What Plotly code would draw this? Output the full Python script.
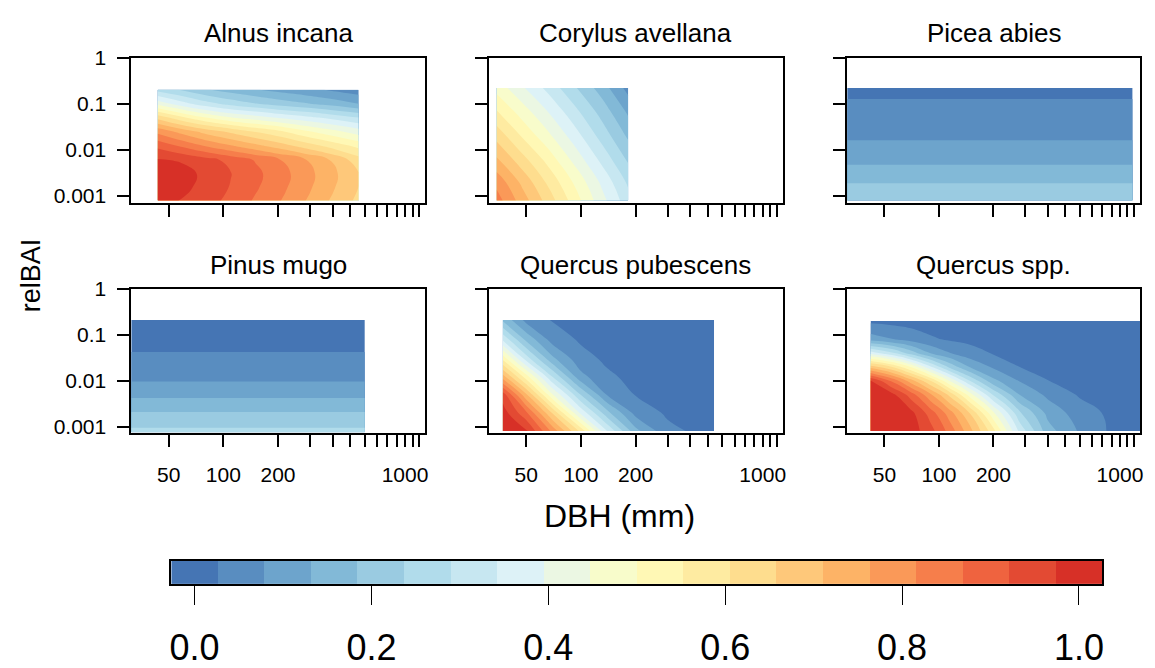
import plotly.graph_objects as go

# ---------------- data ----------------
SPECIES = ["Alnus incana", "Corylus avellana", "Picea abies",
           "Pinus mugo", "Quercus pubescens", "Quercus spp."]

# Alnus incana
ALNUS_X = [43.5, 60, 80, 110, 150, 200, 280, 380, 555]
ALNUS_Y = [0.0008, 0.0015, 0.003, 0.006, 0.012, 0.025, 0.05, 0.1, 0.2]
ALNUS_Z = [
    [0.99, 0.97, 0.945, 0.905, 0.862, 0.822, 0.766, 0.711, 0.645],
    [1.01, 0.985, 0.957, 0.917, 0.875, 0.835, 0.78, 0.725, 0.657],
    [1.02, 0.99, 0.963, 0.923, 0.882, 0.842, 0.787, 0.732, 0.662],
    [0.98, 0.968, 0.942, 0.905, 0.865, 0.825, 0.77, 0.715, 0.63],
    [0.91, 0.86, 0.815, 0.772, 0.73, 0.69, 0.64, 0.595, 0.54],
    [0.80, 0.74, 0.69, 0.645, 0.60, 0.565, 0.51, 0.47, 0.42],
    [0.64, 0.56, 0.50, 0.45, 0.42, 0.39, 0.36, 0.33, 0.29],
    [0.43, 0.36, 0.31, 0.27, 0.24, 0.215, 0.19, 0.165, 0.13],
    [0.27, 0.23, 0.19, 0.16, 0.135, 0.115, 0.095, 0.075, 0.05],
]

# Corylus avellana
CORYLUS_X = [34.4, 48, 65, 90, 130, 182]
CORYLUS_Y = [0.0008, 0.002, 0.006, 0.02, 0.07, 0.22]
CORYLUS_Z = [
    [0.84, 0.735, 0.64, 0.535, 0.415, 0.31],
    [0.80, 0.695, 0.60, 0.50, 0.385, 0.28],
    [0.72, 0.625, 0.54, 0.44, 0.33, 0.23],
    [0.64, 0.545, 0.465, 0.375, 0.27, 0.175],
    [0.555, 0.47, 0.395, 0.31, 0.215, 0.12],
    [0.48, 0.40, 0.33, 0.25, 0.16, 0.06],
]

# Picea abies (varies with relBAI only)
PICEA_X = [30, 1175]
PICEA_Y = [0.0008, 0.0019, 0.0047, 0.0162, 0.128, 0.22]
PICEA_PROFILE = [0.225, 0.184, 0.132, 0.079, 0.026, 0.008]

# Pinus mugo (varies with relBAI only)
PINUS_X = [30, 601]
PINUS_Y = [0.00076, 0.00095, 0.0021, 0.0042, 0.0096, 0.043, 0.21]
PINUS_PROFILE = [0.25, 0.237, 0.184, 0.132, 0.079, 0.026, 0.004]

# Quercus pubescens
QPUB_X = [37.2, 50, 70, 100, 140, 200, 300, 540]
QPUB_Y = [0.0008, 0.002, 0.005, 0.012, 0.03, 0.08, 0.21]
QPUB_Z = [
    [1.0, 0.985, 0.80, 0.59, 0.34, 0.15, 0.04, 0.005],
    [1.0, 0.88, 0.65, 0.38, 0.20, 0.06, 0.018, 0.0],
    [0.95, 0.72, 0.45, 0.234, 0.072, 0.024, 0.008, 0.0],
    [0.74, 0.53, 0.29, 0.097, 0.035, 0.013, 0.003, 0.0],
    [0.54, 0.32, 0.144, 0.044, 0.017, 0.004, 0.0, 0.0],
    [0.33, 0.17, 0.054, 0.019, 0.005, 0.0, 0.0, 0.0],
    [0.175, 0.062, 0.022, 0.008, 0.002, 0.0, 0.0, 0.0],
]

# Quercus spp.
QSPP_X = [41.9, 55, 70, 90, 115, 150, 200, 280, 400, 600, 850, 1300]
QSPP_Y = [0.0008, 0.002, 0.005, 0.01, 0.02, 0.04, 0.08, 0.2]
QSPP_Z = [
    [1.0, 1.0, 1.0, 0.942, 0.848, 0.723, 0.573, 0.327, 0.154, 0.072, 0.025, 0.005],
    [1.0, 1.0, 0.99, 0.895, 0.785, 0.650, 0.456, 0.244, 0.115, 0.051, 0.02, 0.003],
    [1.0, 0.99, 0.896, 0.771, 0.640, 0.465, 0.282, 0.129, 0.066, 0.02, 0.012, 0.002],
    [0.98, 0.857, 0.735, 0.603, 0.444, 0.281, 0.146, 0.075, 0.027, 0.012, 0.005, 0.0],
    [0.687, 0.608, 0.497, 0.351, 0.223, 0.124, 0.071, 0.026, 0.015, 0.008, 0.003, 0.0],
    [0.375, 0.302, 0.213, 0.130, 0.081, 0.047, 0.022, 0.012, 0.006, 0.0, 0.0, 0.0],
    [0.107, 0.082, 0.059, 0.034, 0.020, 0.012, 0.006, 0.003, 0.0, 0.0, 0.0, 0.0],
    [0.015, 0.01, 0.005, 0.0, 0.0, 0.0, 0.0, 0.0, 0.0, 0.0, 0.0, 0.0],
]

# axis ticks
X_TICKS = [50, 100, 200, 300, 400, 500, 600, 700, 800, 900, 1000, 1100, 1200]
X_TICK_LABELS = ["50", "100", "200", "", "", "", "", "", "", "", "1000", "", ""]
Y_TICKS = [0.001, 0.01, 0.1, 1]
Y_TICK_LABELS = ["0.001", "0.01", "0.1", "1"]
CB_TICKS = [0.0, 0.2, 0.4, 0.6, 0.8, 1.0]
CB_TICK_LABELS = ["0.0", "0.2", "0.4", "0.6", "0.8", "1.0"]

# ---------------- styling ----------------
N_LEVELS = 20
ANCHORS = ["#4575B4", "#74ADD1", "#ABD9E9", "#E0F3F8", "#FFFFBF",
           "#FEE090", "#FDAE61", "#F46D43", "#D73027"]


def hex2rgb(h):
    h = h.lstrip("#")
    return [int(h[i:i + 2], 16) for i in (0, 2, 4)]


def ramp(anchors, n):
    rgb = [hex2rgb(a) for a in anchors]
    out = []
    for k in range(n):
        t = k / (n - 1) * (len(rgb) - 1)
        i = min(int(t), len(rgb) - 2)
        f = t - i
        c = [round(rgb[i][j] + f * (rgb[i + 1][j] - rgb[i][j])) for j in range(3)]
        out.append("rgb(%d,%d,%d)" % tuple(c))
    return out


COLORS = ramp(ANCHORS, N_LEVELS)
STEP = 1.0 / (N_LEVELS - 1)
COLORSCALE = [[k * STEP, COLORS[k]] for k in range(N_LEVELS)]
COLORSCALE[-1][0] = 1.0
LEVEL_CENTERS = [k * STEP for k in range(N_LEVELS)]

FONT = "Liberation Sans, Arial, sans-serif"
NARROW = "Liberation Sans Narrow, Arial Narrow, Liberation Sans, sans-serif"
W, H = 1155, 668
COLS = [(130, 425), (489, 784.3), (849, 1143)]
ROWS = [(47, 197), (286, 435)]
X_RANGE = [1.494, 3.111]
Y_RANGE = [-3.145, 0.0]


def px_x(p):
    return p / W


def px_y(p):
    return 1 - p / H


data = {
    "Alnus incana": (ALNUS_X, ALNUS_Y, ALNUS_Z),
    "Corylus avellana": (CORYLUS_X, CORYLUS_Y, CORYLUS_Z),
    "Picea abies": (PICEA_X, PICEA_Y, [[v] * len(PICEA_X) for v in PICEA_PROFILE]),
    "Pinus mugo": (PINUS_X, PINUS_Y, [[v] * len(PINUS_X) for v in PINUS_PROFILE]),
    "Quercus pubescens": (QPUB_X, QPUB_Y, QPUB_Z),
    "Quercus spp.": (QSPP_X, QSPP_Y, QSPP_Z),
}

fig = go.Figure()
layout = {}
annotations = []

for i, name in enumerate(SPECIES):
    r, c = divmod(i, 3)
    n = i + 1
    xs, ys, zs = data[name]
    fig.add_trace(go.Contour(
        x=xs, y=ys, z=zs,
        xaxis="x%d" % n, yaxis="y%d" % n,
        colorscale=COLORSCALE,
        contours=dict(start=0.5 * STEP, end=1 - 0.5 * STEP, size=STEP,
                      coloring="fill", showlines=False),
        line=dict(width=0, smoothing=1.3),
        showscale=False, hoverinfo="skip",
    ))
    x0, x1 = COLS[c]
    y0, y1 = ROWS[r]
    axis_common = dict(showline=True, mirror=True, linecolor="black", linewidth=2,
                       ticks="outside", tickcolor="black", tickwidth=1.6, ticklen=12,
                       showgrid=False, zeroline=False,
                       tickfont=dict(family=FONT, size=21, color="black"))
    layout["xaxis%d" % n] = dict(
        axis_common, type="log", range=X_RANGE,
        domain=[px_x(x0), px_x(x1)], anchor="y%d" % n,
        tickmode="array", tickvals=X_TICKS, ticktext=X_TICK_LABELS,
        showticklabels=(r == 1), ticklabelstandoff=9)
    layout["yaxis%d" % n] = dict(
        axis_common, type="log", range=Y_RANGE,
        domain=[px_y(y1), px_y(y0)], anchor="x%d" % n,
        tickmode="array", tickvals=Y_TICKS, ticktext=Y_TICK_LABELS,
        showticklabels=(c == 0), ticklabelstandoff=7)
    annotations.append(dict(
        text=name, xref="paper", yref="paper",
        x=px_x((x0 + x1) / 2), y=px_y(y0 - 25), xanchor="center", yanchor="middle",
        showarrow=False, font=dict(family=FONT, size=26, color="black")))

# colour key as its own strip
fig.add_trace(go.Heatmap(
    x=LEVEL_CENTERS, y=[0], z=[LEVEL_CENTERS],
    xaxis="x7", yaxis="y7", colorscale=COLORSCALE, zmin=0, zmax=1,
    showscale=False, hoverinfo="skip"))
layout["xaxis7"] = dict(
    domain=[px_x(170), px_x(1105)], anchor="y7",
    range=[-0.5 * STEP, 1 + 0.5 * STEP],
    tickmode="array", tickvals=CB_TICKS, ticktext=CB_TICK_LABELS,
    ticks="outside", ticklen=19, tickwidth=1.2, tickcolor="black",
    showline=True, mirror=True, linecolor="black", linewidth=1.5,
    showgrid=False, zeroline=False, ticklabelstandoff=12,
    tickfont=dict(family=NARROW, size=36, color="black"))
layout["yaxis7"] = dict(
    domain=[px_y(590.7), px_y(566.7)], anchor="x7", range=[-0.5, 0.5],
    showticklabels=False, ticks="", showline=True, mirror=True,
    linecolor="black", linewidth=1.5, showgrid=False, zeroline=False)

annotations.append(dict(
    text="relBAI", xref="paper", yref="paper", x=px_x(30), y=px_y(272),
    textangle=-90, xanchor="center", yanchor="middle", showarrow=False,
    font=dict(family=FONT, size=27, color="black")))
annotations.append(dict(
    text="DBH (mm)", xref="paper", yref="paper", x=px_x(620), y=px_y(520),
    xanchor="center", yanchor="middle", showarrow=False,
    font=dict(family=FONT, size=32, color="black")))

fig.update_layout(
    **layout,
    annotations=annotations,
    width=W, height=H,
    margin=dict(l=0, r=0, t=0, b=0),
    paper_bgcolor="white", plot_bgcolor="white",
    showlegend=False,
)

fig.write_html("out.html")
